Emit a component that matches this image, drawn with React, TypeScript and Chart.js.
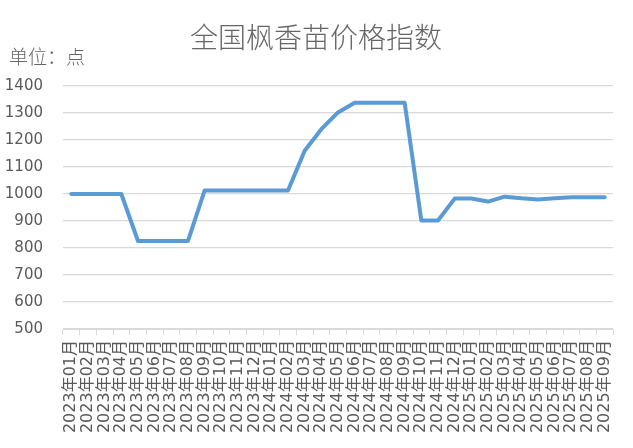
import React, { useEffect, useRef } from "react";
import { Chart, registerables } from "chart.js";

Chart.register(...registerables);

const TITLE = "全国枫香苗价格指数";
const UNIT = "单位：点";

const months = [
  "2023年01月", "2023年02月", "2023年03月", "2023年04月", "2023年05月", "2023年06月",
  "2023年07月", "2023年08月", "2023年09月", "2023年10月", "2023年11月", "2023年12月",
  "2024年01月", "2024年02月", "2024年03月", "2024年04月", "2024年05月", "2024年06月",
  "2024年07月", "2024年08月", "2024年09月", "2024年10月", "2024年11月", "2024年12月",
  "2025年01月", "2025年02月", "2025年03月", "2025年04月", "2025年05月", "2025年06月",
  "2025年07月", "2025年08月", "2025年09月",
];

const priceIndex = [
  1000, 1000, 1000, 1000, 826, 826, 826, 826, 1013, 1013, 1013, 1013,
  1013, 1013, 1160, 1240, 1302, 1338, 1338, 1338, 1338, 902, 902, 983,
  983, 972, 990, 984, 980, 984, 988, 988, 988,
];

const yMin = 500;
const yMax = 1400;
const yStep = 100;

const W = 633;
const H = 448;
const TEXT = "#595959";
const GRID = "#d9d9d9";
const LINE = "#5b9bd5";
const FONT = "'DejaVu Sans', 'Noto Sans CJK SC', sans-serif";

// ── Title + unit drawn on the canvas ─────────────────────────
const headerPlugin = {
  id: "header",
  afterDraw(chart: Chart) {
    const { ctx } = chart;
    ctx.save();
    ctx.fillStyle = "#666666";
    ctx.textBaseline = "middle";
    ctx.font = `300 28px 'Noto Sans CJK SC', sans-serif`;
    ctx.textAlign = "center";
    ctx.fillText(TITLE, 316, 37);
    ctx.font = `300 19px 'Noto Sans CJK SC', sans-serif`;
    ctx.textAlign = "left";
    ctx.fillText(UNIT, 9, 57);
    ctx.restore();
  },
};

export default function App() {
  const ref = useRef<HTMLCanvasElement>(null);
  const chart = useRef<Chart | null>(null);

  useEffect(() => {
    document.body.style.margin = "0";
    if (!ref.current) return;
    chart.current?.destroy();
    chart.current = new Chart(ref.current, {
      type: "line",
      data: {
        labels: months,
        datasets: [{
          label: TITLE,
          data: priceIndex,
          borderColor: LINE,
          borderWidth: 4,
          pointRadius: 0,
          tension: 0,
          borderCapStyle: "round",
          borderJoinStyle: "round",
          fill: false,
        }],
      },
      options: {
        responsive: false,
        animation: false,
        layout: { padding: { top: 86, right: 20, left: 0, bottom: 0 } },
        plugins: { legend: { display: false }, tooltip: { enabled: false }, title: { display: false } },
        scales: {
          x: {
            offset: true,
            grid: { offset: true, drawOnChartArea: false, drawTicks: true, tickLength: 6, color: GRID },
            border: { color: GRID },
            ticks: {
              autoSkip: false, minRotation: 90, maxRotation: 90, padding: 5,
              color: TEXT, font: { family: FONT, size: 16 },
            },
            afterFit: (s: any) => { s.height = H - 329; },
          },
          y: {
            min: yMin, max: yMax,
            grid: { color: GRID, lineWidth: 1.2, drawTicks: false },
            border: { display: false },
            ticks: {
              stepSize: yStep, padding: 20, color: TEXT, font: { family: FONT, size: 15 },
              callback: (v: any) => String(v),
            },
            afterFit: (s: any) => { s.width = 63; },
          },
        },
      },
      plugins: [headerPlugin],
    });
    return () => chart.current?.destroy();
  }, []);

  return (
    <div style={{ width: W, height: H, background: "#fff", overflow: "hidden" }}>
      <canvas ref={ref} width={W} height={H} style={{ width: W, height: H }} />
    </div>
  );
}
